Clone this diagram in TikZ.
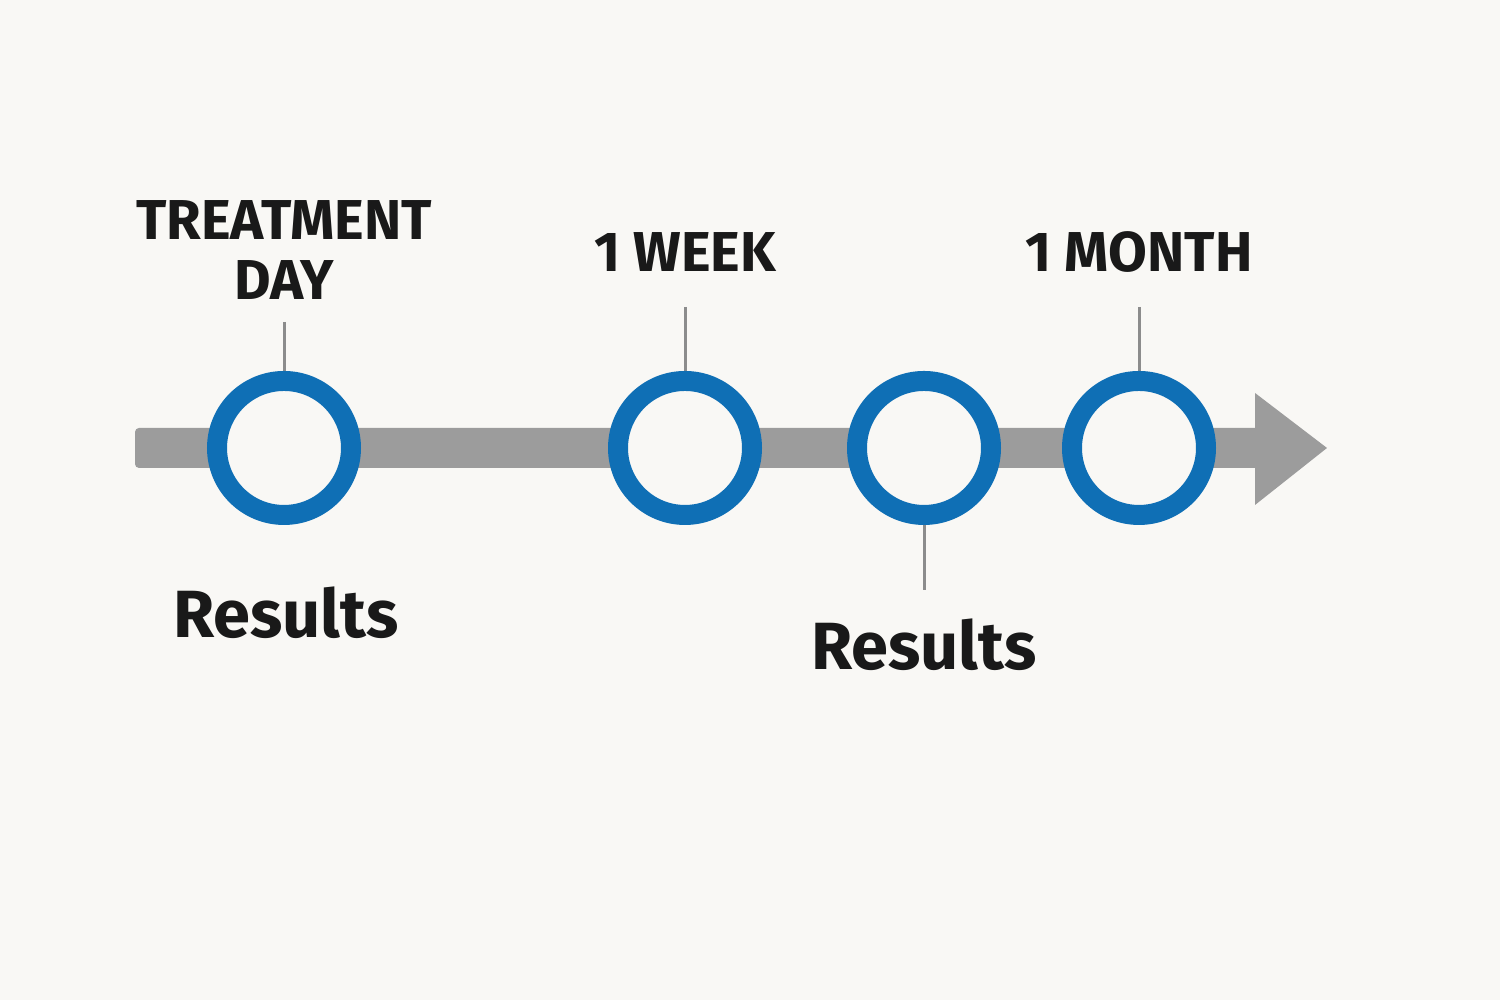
\documentclass[tikz,border=0pt]{standalone}
\usepackage{fontspec}
\setmainfont{Fira Sans}
\usetikzlibrary{positioning}
\definecolor{bgpaper}{HTML}{F9F8F5}
\definecolor{ringblue}{HTML}{0F6FB5}
\definecolor{bargray}{HTML}{9C9C9C}
\tikzset{
  ring/.style={circle, draw=ringblue, line width=0.2cm, fill=bgpaper, minimum size=1.34cm, inner sep=0pt},
  tick/.style={draw=bargray!90!black, line width=0.03cm},
  stamp/.style={font=\bfseries\fontsize{16}{17}\selectfont, align=center, text=black!90},
  result/.style={font=\bfseries\fontsize{19}{20}\selectfont, text=black!90}
}
\begin{document}
\begin{tikzpicture}
    % background
    \fill[bgpaper] (0,0) rectangle (15,10);
    \useasboundingbox (0,0) rectangle (15,10);

    % the time axis
    \fill[bargray, rounded corners=0.04cm] (1.35,5.72) rectangle (12.6,5.32);
    \fill[bargray] (12.55,6.07) -- (13.27,5.52) -- (12.55,4.95) -- cycle;

    % ticks first, rings on top
    \draw[tick] (2.84,6.78) -- (2.84,6.2);
    \draw[tick] (6.85,6.93) -- (6.85,6.2);
    \draw[tick] (11.39,6.93) -- (11.39,6.2);
    \draw[tick] (9.24,4.8) -- (9.24,4.1);

    \node[ring] (treat) at (2.84,5.52) {};
    \node[ring] (week) at (6.85,5.52) {};
    \node[ring] (mid) at (9.24,5.52) {};
    \node[ring] (month) at (11.39,5.52) {};

    % labels
    \node[stamp] (treatlbl) at (2.84,7.5) {TREATMENT\\DAY};
    \node[stamp] (weeklbl) at (6.85,7.48) {1 WEEK};
    \node[stamp] (monthlbl) at (11.39,7.48) {1 MONTH};
    \node[result] (res1) at (2.86,3.87) {Results};
    \node[result] (res2) at (9.24,3.55) {Results};
\end{tikzpicture}
\end{document}
